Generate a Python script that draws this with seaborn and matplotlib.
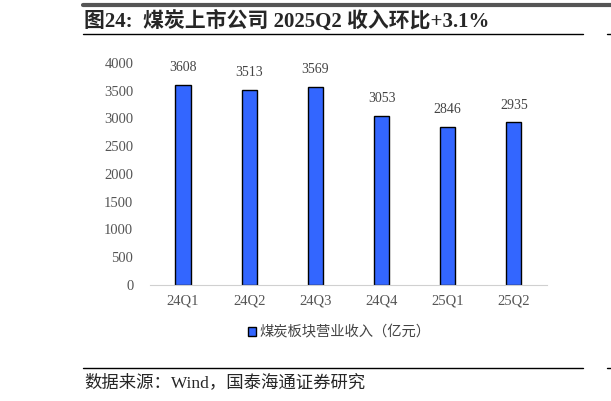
import pandas as pd
import seaborn as sns
import matplotlib.pyplot as plt
from matplotlib.lines import Line2D
from matplotlib.patches import Patch

# -------- DATA --------
quarters = ['24Q1', '24Q2', '24Q3', '24Q4', '25Q1', '25Q2']
revenue = [3608, 3513, 3569, 3053, 2846, 2935]
series_name = '煤炭板块营业收入（亿元）'
title = '图24:  煤炭上市公司 2025Q2 收入环比+3.1%'
source = '数据来源：Wind，国泰海通证券研究'

df = pd.DataFrame({'quarter': quarters, 'revenue': revenue})

# -------- STYLE --------
sns.set_style('white')
plt.rcParams['font.family'] = ['Liberation Serif', 'Noto Sans CJK SC', 'DejaVu Sans']

fig = plt.figure(figsize=(6.11, 4.01), dpi=100)
ax = fig.add_axes([0.2455, 0.2893, 0.6497, 0.5536])

sns.barplot(data=df, x='quarter', y='revenue', color='#3366FF', width=0.23,
            edgecolor='black', linewidth=1.0, saturation=1, ax=ax)

for i, v in enumerate(revenue):
    ax.text(i, v + 190, str(v), ha='center', va='bottom', fontsize=10,
            color='#444444')

ax.set_ylim(0, 4000)
ax.set_yticks(range(0, 4001, 500))
ax.set_xlabel('')
ax.set_ylabel('')
ax.tick_params(axis='both', labelsize=10.5, colors='#555555', length=0)
ax.tick_params(axis='y', pad=12)
ax.tick_params(axis='x', pad=7)
for s in ['top', 'right', 'left']:
    ax.spines[s].set_visible(False)
ax.spines['bottom'].set_color('#d0d0d0')

# legend
fig.legend(handles=[Patch(facecolor='#3366FF', edgecolor='black', label=series_name)],
           loc='center', bbox_to_anchor=(0.555, 0.17), frameon=False,
           fontsize=10.3, handlelength=0.6, handleheight=0.6, handletextpad=0.2,
           labelcolor='#444444')

# title, frame lines and source
fig.text(0.138, 0.948, title, fontsize=15, fontweight='bold', va='center', ha='left')
fig.add_artist(Line2D([0.136, 1.0], [0.988, 0.988], color='#555555', lw=3))
fig.add_artist(Line2D([0.136, 0.954], [0.915, 0.915], color='black', lw=1))
fig.add_artist(Line2D([0.993, 1.0], [0.915, 0.915], color='black', lw=1))
fig.add_artist(Line2D([0.136, 0.954], [0.082, 0.082], color='black', lw=1))
fig.add_artist(Line2D([0.993, 1.0], [0.082, 0.082], color='black', lw=1))
fig.text(0.138, 0.046, source, fontsize=12.5, va='center', ha='left')

fig.savefig('out.png', dpi=100)
